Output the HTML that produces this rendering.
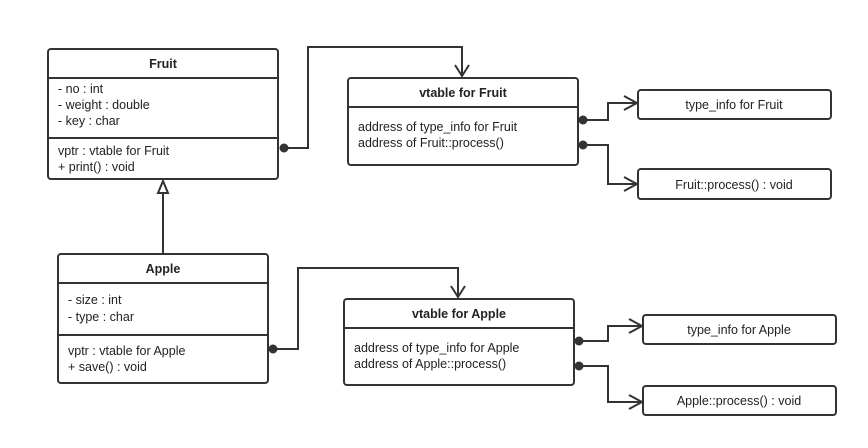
<!DOCTYPE html>
<html><head><style>body{margin:0;background:#fff}svg{display:block}text{font-family:"Liberation Sans","DejaVu Sans",sans-serif;font-size:12.5px;fill:#222}.b{font-weight:bold}</style></head><body>
<svg width="868" height="448" viewBox="0 0 868 448" xmlns="http://www.w3.org/2000/svg">
<g fill="#fff" stroke="#333" stroke-width="2">
<rect x="48" y="49" width="230" height="130" rx="3"/>
<rect x="348" y="78" width="230" height="87" rx="3"/>
<rect x="638" y="90" width="193" height="29" rx="3"/>
<rect x="638" y="169" width="193" height="30" rx="3"/>
<rect x="58" y="254" width="210" height="129" rx="3"/>
<rect x="344" y="299" width="230" height="86" rx="3"/>
<rect x="643" y="315" width="193" height="29" rx="3"/>
<rect x="643" y="386" width="193" height="29" rx="3"/>
</g>
<g stroke="#333" stroke-width="2" fill="none">
<line x1="48" y1="78" x2="278" y2="78"/><line x1="48" y1="138" x2="278" y2="138"/>
<line x1="348" y1="107" x2="578" y2="107"/>
<line x1="58" y1="283" x2="268" y2="283"/><line x1="58" y1="335" x2="268" y2="335"/>
<line x1="344" y1="328" x2="574" y2="328"/>
<polyline points="284,148 308,148 308,47 462,47 462,76"/><polyline points="455,65 462,76 469,65"/>
<polyline points="583,120 608,120 608,103 637,103"/><polyline points="624,96 637,103 624,110"/>
<polyline points="583,145 608,145 608,184 637,184"/><polyline points="624,177 637,184 624,191"/>
<polyline points="273,349 298,349 298,268 458,268 458,297"/><polyline points="451,286 458,297 465,286"/>
<polyline points="579,341 608,341 608,326 642,326"/><polyline points="629,319 642,326 629,333"/>
<polyline points="579,366 608,366 608,402 642,402"/><polyline points="629,395 642,402 629,409"/>
<line x1="163" y1="254" x2="163" y2="193"/>
<polygon points="163,181 158,193 168,193" fill="#fff"/>
</g>
<g fill="#333"><circle cx="284" cy="148" r="4.5"/><circle cx="583" cy="120" r="4.5"/><circle cx="583" cy="145" r="4.5"/><circle cx="273" cy="349" r="4.5"/><circle cx="579" cy="341" r="4.5"/><circle cx="579" cy="366" r="4.5"/></g>
<text x="163" y="68" text-anchor="middle" class="b">Fruit</text>
<text x="58" y="93">- no : int</text><text x="58" y="109">- weight : double</text><text x="58" y="125">- key : char</text>
<text x="58" y="155">vptr : vtable for Fruit</text><text x="58" y="171"> + print() : void</text>
<text x="463" y="97" text-anchor="middle" class="b">vtable for Fruit</text>
<text x="358" y="131">address of type_info for Fruit</text><text x="358" y="147">address of Fruit::process()</text>
<text x="734" y="109" text-anchor="middle">type_info for Fruit</text>
<text x="734" y="189" text-anchor="middle">Fruit::process() : void</text>
<text x="163" y="273" text-anchor="middle" class="b">Apple</text>
<text x="68" y="304">- size : int</text><text x="68" y="321">- type : char</text>
<text x="68" y="355">vptr : vtable for Apple</text><text x="68" y="371"> + save() : void</text>
<text x="459" y="318" text-anchor="middle" class="b">vtable for Apple</text>
<text x="354" y="352">address of type_info for Apple</text><text x="354" y="368">address of Apple::process()</text>
<text x="739" y="334" text-anchor="middle">type_info for Apple</text>
<text x="739" y="405" text-anchor="middle">Apple::process() : void</text>
</svg>
</body></html>
